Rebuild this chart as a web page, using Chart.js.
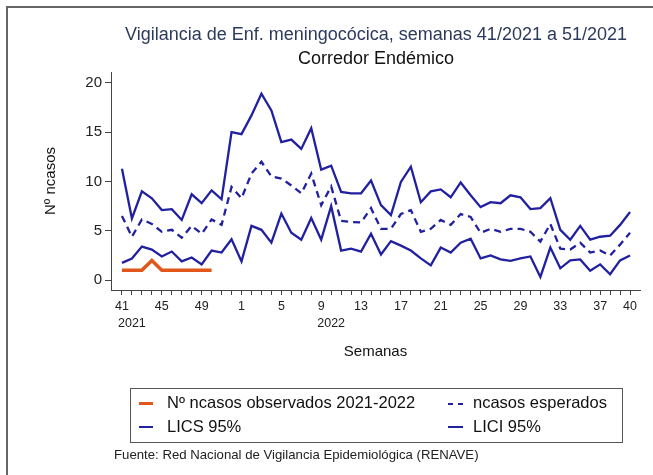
<!DOCTYPE html>
<html>
<head>
<meta charset="utf-8">
<script src="https://cdn.jsdelivr.net/npm/chart.js@4.4.1/dist/chart.umd.min.js"></script>
<style>
  body { margin: 0; background: #fff; font-family: "Liberation Sans", Arial, sans-serif; }
  #wrap { position: relative; width: 653px; height: 475px; overflow: hidden; }
  #frame { position: absolute; left: 6px; top: 6px; right: -10px; bottom: -10px; border-left: 2px solid #666; border-top: 2px solid #666; }
  canvas { position: absolute; left: 0; top: 0; }
  .t { position: absolute; white-space: nowrap; }
  #title1 { left: 0; width: 752px; text-align: center; top: 24px; font-size: 18px; color: #2c3a5c; }
  #title2 { left: 0; width: 752px; text-align: center; top: 48px; font-size: 18px; color: #111; }
  #legend { position: absolute; left: 130px; top: 388px; width: 491px; height: 53px; border: 1px solid #555; }
  .item { position: absolute; font-size: 16.5px; color: #111; }
  .swatch { position: absolute; height: 0; }
  #source { left: 114px; top: 447px; font-size: 13.2px; color: #222; }
</style>
</head>
<body>
<div id="wrap">
  <div id="frame"></div>
  <canvas id="chart" width="653" height="475"></canvas>
  <div class="t" id="title1">Vigilancia de Enf. meningocócica, semanas 41/2021 a 51/2021</div>
  <div class="t" id="title2">Corredor Endémico</div>
  <div id="legend">
    <div class="swatch" style="left:8px; width:14px; top:13px; border-top:3px solid #e0561b;"></div>
    <div class="item" style="left:36px; top:4px;">Nº ncasos observados 2021-2022</div>
    <div class="swatch" style="left:317px; width:5px; top:14px; border-top:2px solid #2020a0;"></div>
    <div class="swatch" style="left:327px; width:5px; top:14px; border-top:2px solid #2020a0;"></div>
    <div class="item" style="left:342px; top:4px;">ncasos esperados</div>
    <div class="swatch" style="left:8px; width:14px; top:37px; border-top:2px solid #2020a0;"></div>
    <div class="item" style="left:36px; top:28px;">LICS 95%</div>
    <div class="swatch" style="left:317px; width:15px; top:37px; border-top:2px solid #2020a0;"></div>
    <div class="item" style="left:342px; top:28px;">LICI 95%</div>
  </div>
  <div class="t" id="source">Fuente: Red Nacional de Vigilancia Epidemiológica (RENAVE)</div>
</div>
<script>
  // weeks 41/2021 .. 40/2022
  const weeks = [41, 42, 43, 44, 45, 46, 47, 48, 49, 50, 51, 52,
    1, 2, 3, 4, 5, 6, 7, 8, 9, 10, 11, 12, 13, 14, 15, 16, 17, 18, 19, 20,
    21, 22, 23, 24, 25, 26, 27, 28, 29, 30, 31, 32, 33, 34, 35, 36, 37, 38, 39, 40];
  const labeledWeeks = [41, 45, 49, 1, 5, 9, 13, 17, 21, 25, 29, 33, 37, 40];
  // year label sits on the second line, a week to the right of the first label
  const yearLabels = { 1: "2021", 21: "2022" };
  const yTicks = [0, 5, 10, 15, 20];

  const observed = [1, 1, 1, 2, 1, 1, 1, 1, 1, 1];
  const expected = [6.5, 4.4, 6.15, 5.7, 4.9, 5.1, 4.3, 5.5, 4.7, 6.15, 5.6,
    9.45, 8.3, 10.8, 12.0, 10.5, 10.3, 9.6, 8.8, 10.8, 7.6, 9.5, 6.0, 5.9, 5.85, 7.3,
    5.2, 5.2, 6.7, 7.1, 4.9, 5.2, 6.1, 5.6, 6.7, 6.4, 4.8, 5.2, 4.9, 5.2, 5.2, 4.9,
    3.9, 5.7, 3.2, 3.1, 3.8, 2.8, 3.0, 2.5, 3.6, 4.8];
  const lics = [11.3, 6.25, 9.0, 8.3, 7.1, 7.2, 6.1, 8.7, 7.8, 9.1, 8.2,
    15.0, 14.8, 16.7, 18.9, 17.2, 14.0, 14.25, 13.3, 15.4, 11.2, 11.6, 8.95, 8.8, 8.8, 10.1,
    7.6, 6.6, 9.96, 11.5, 7.9, 9.0, 9.2, 8.4, 9.9, 8.6, 7.4, 7.9, 7.8, 8.6, 8.4, 7.2,
    7.3, 8.3, 5.1, 4.1, 5.5, 4.1, 4.4, 4.5, 5.6, 6.9];
  const lici = [1.75, 2.2, 3.4, 3.1, 2.4, 2.9, 1.9, 2.3, 1.6, 3.0, 2.8,
    4.15, 1.9, 5.5, 5.1, 3.8, 6.75, 4.8, 4.1, 6.3, 4.1, 7.5, 3.0, 3.2, 2.9, 4.7,
    2.6, 3.95, 3.5, 3.0, 2.2, 1.5, 3.3, 2.8, 3.8, 4.2, 2.2, 2.5, 2.1, 1.95, 2.2, 2.4,
    0.33, 3.3, 1.2, 2.0, 2.1, 0.95, 1.6, 0.6, 2.0, 2.5];

  const BLUE = "#2020a0";
  const ORANGE = "#e0561b";
  const toPoints = arr => arr.map((v, i) => ({ x: i, y: v }));
  const family = "'Liberation Sans', Arial, sans-serif";

  const ctx = document.getElementById("chart").getContext("2d");
  new Chart(ctx, {
    type: "line",
    data: {
      datasets: [
        { label: "Nº ncasos observados 2021-2022", data: toPoints(observed), borderColor: ORANGE, borderWidth: 3.5 },
        { label: "ncasos esperados", data: toPoints(expected), borderColor: BLUE, borderWidth: 2.3, borderDash: [7, 5] },
        { label: "LICS 95%", data: toPoints(lics), borderColor: BLUE, borderWidth: 2.3 },
        { label: "LICI 95%", data: toPoints(lici), borderColor: BLUE, borderWidth: 2.3 },
      ],
    },
    options: {
      responsive: false,
      animation: false,
      elements: { point: { radius: 0 }, line: { tension: 0, fill: false } },
      layout: { padding: { left: 42, top: 72, right: 13, bottom: 114 } },
      plugins: { legend: { display: false }, tooltip: { enabled: false } },
      scales: {
        x: {
          type: "linear",
          min: -1.1,
          max: 52,
          afterBuildTicks: axis => { axis.ticks = weeks.map((w, i) => ({ value: i })); },
          afterFit: scale => { scale.height = 71; },
          ticks: {
            autoSkip: false,
            maxRotation: 0,
            padding: 3,
            color: "#222",
            font: { family: family, size: 12.5, lineHeight: 1.35 },
            callback: function (value) {
              const w = weeks[value];
              const top = labeledWeeks.includes(w) ? String(w) : "";
              if (yearLabels[value]) return [top, yearLabels[value]];
              return top;
            },
          },
          grid: { drawOnChartArea: false, tickLength: 5, color: "#444" },
          border: { color: "#444" },
          title: { display: true, text: "Semanas", color: "#111", padding: 0,
            font: { family: family, size: 15 } },
        },
        y: {
          min: -1,
          max: 21.1,
          afterBuildTicks: axis => { axis.ticks = yTicks.map(v => ({ value: v })); },
          afterFit: scale => { scale.width = 69; },
          ticks: { padding: 3, color: "#222", font: { family: family, size: 15 } },
          grid: { drawOnChartArea: false, tickLength: 6, color: "#444" },
          border: { color: "#444" },
          title: { display: true, text: "Nº ncasos", color: "#111", padding: 0,
            font: { family: family, size: 15 } },
        },
      },
    },
  });
</script>
</body>
</html>
